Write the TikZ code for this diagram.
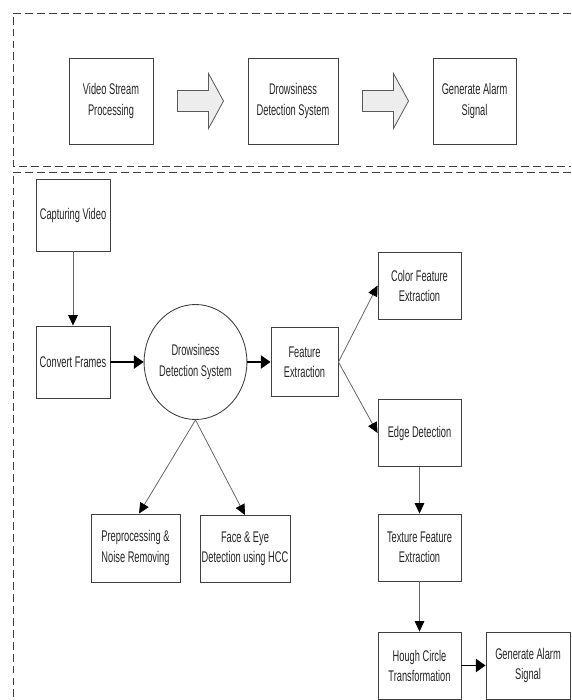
\documentclass[tikz,border=0pt]{standalone}
\usepackage{fontspec}
\setmainfont{Liberation Sans}[FakeStretch=0.6]
\usepackage{tikz}
\usetikzlibrary{positioning, arrows.meta, calc, shapes.geometric}
\newcommand{\boxfont}{\fontsize{8.8}{11.4}\selectfont}
\tikzset{
  flow/.style={
	node distance=1cm, % centre to centre for below of / right of
	box/.style={draw=black!75, line width=0.5pt, align=center, inner sep=0pt, font=\boxfont, text=black!85},
	topbox/.style={box, minimum height=1.72cm},
	stagebox/.style={box, minimum width=1.66cm, minimum height=1.34cm},
	thinarrow/.style={draw=black!60, line width=0.45pt, -{Triangle[length=6pt, width=5.5pt, color=black]}},
	thickarrow/.style={draw=black, line width=0.9pt, -{Triangle[length=5.5pt, width=7.5pt]}},
	blockarrow/.style={draw=black!65, line width=0.45pt, fill=black!7},
	frame/.style={draw=black!75, line width=0.5pt, dash pattern=on 4.5pt off 2.3pt},
  }
}
\newcommand{\bigarrow}[1]{\draw[blockarrow, shift={(#1)}, x=0.02cm, y=0.02cm] (-23,-10.5) -- (8,-10.5) -- (8,-27.5) -- (23,0) -- (8,27.5) -- (8,10.5) -- (-23,10.5) -- cycle;}
\begin{document}
\begin{tikzpicture}[flow]
	\useasboundingbox (0,0) rectangle (11.42,-14);

	\draw[frame] (11.42,-0.26) -- (0.26,-0.26) -- (0.26,-3.32) -- (11.42,-3.32);
	\draw[frame] (11.42,-3.44) -- (0.26,-3.44) -- (0.26,-14);

	\node[topbox, minimum width=1.68cm] at (2.22,-2.02) (vsp) {Video Stream\\Processing};
	\node[topbox, minimum width=1.80cm, right of=vsp, xshift=2.64cm] (dds) {Drowsiness\\Detection System};
	\node[topbox, minimum width=1.66cm, right of=dds, xshift=2.63cm] (gas) {Generate Alarm\\Signal};

	\coordinate (a1) at ($(vsp.east)!0.5!(dds.west)$);
	\coordinate (a2) at ($(dds.east)!0.5!(gas.west)$);
	\bigarrow{a1}
	\bigarrow{a2}

	\node[box, minimum width=1.48cm, minimum height=1.44cm] at (1.46,-4.30) (cap) {Capturing Video};
	\node[box, minimum width=1.48cm, minimum height=1.44cm, below of=cap, yshift=-1.94cm] (cf) {Convert Frames};
	\node[box, ellipse, minimum width=1.70cm, minimum height=2.30cm, right of=cf, xshift=1.45cm] (ds) {Drowsiness\\Detection System};
	\node[box, minimum width=1.34cm, minimum height=1.38cm, right of=ds, xshift=1.18cm] (fe) {Feature\\Extraction};

	\node[stagebox, right of=fe, xshift=1.30cm, yshift=1.53cm] (color) {Color Feature\\Extraction};
	\node[stagebox, right of=fe, xshift=1.30cm, yshift=-1.42cm] (edge) {Edge Detection};
	\node[stagebox, below of=edge, yshift=-1.29cm] (tex) {Texture Feature\\Extraction};
	\node[stagebox, below of=tex, yshift=-1.36cm] (hough) {Hough Circle\\Transformation};
	\node[stagebox, minimum width=1.68cm, right of=hough, xshift=1.17cm] (gas2) {Generate Alarm\\Signal};

	\node[box, minimum width=1.78cm, minimum height=1.36cm, below of=ds, xshift=-1.20cm, yshift=-2.72cm] (pre) {Preprocessing \&\\Noise Removing};
	\node[box, minimum width=1.80cm, minimum height=1.34cm, below of=ds, xshift=0.99cm, yshift=-2.74cm] (face) {Face \& Eye\\Detection using HCC};

	\draw[thinarrow] (cap) -- (cf);
	\draw[thickarrow] (cf) -- (ds);
	\draw[thickarrow] (ds) -- (fe);
	\draw[thinarrow] (fe.east) -- (color.west);
	\draw[thinarrow] (fe.east) -- (edge.west);
	\draw[thinarrow] (edge) -- (tex);
	\draw[thinarrow] (tex) -- (hough);
	\draw[thickarrow] (hough) -- (gas2);
	\draw[thinarrow] (ds.south) -- ($(pre.north)+(0.07,0)$);
	\draw[thinarrow] (ds.south) -- (face.north);

\end{tikzpicture}
\end{document}
